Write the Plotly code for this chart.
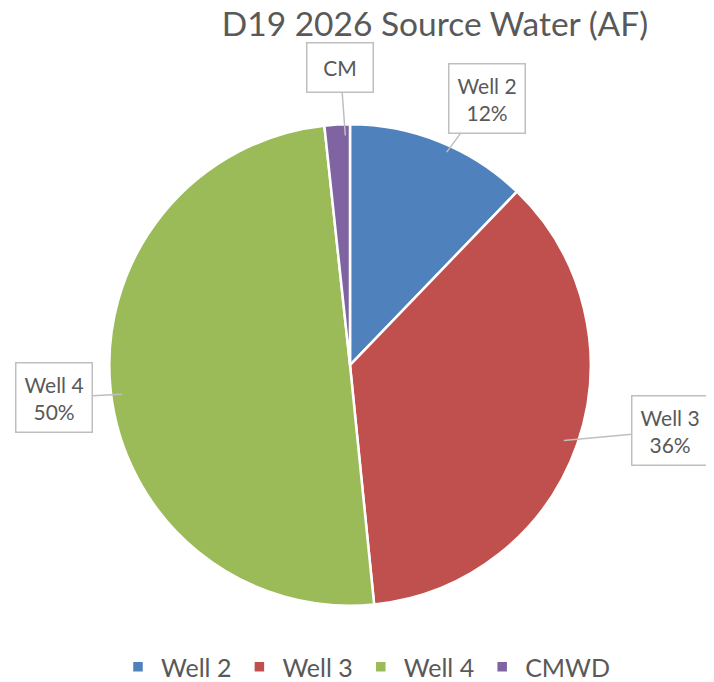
import numpy as np
import plotly.graph_objects as go

# source water share (AF, shown as percent)
sources = ["Well 2", "Well 3", "Well 4", "CMWD"]
volumes = [12.2, 36.2, 49.9, 1.7]
box_text = ["Well 2<br>12%", "Well 3<br>36%", "Well 4<br>50%", "CM"]
colors = ["#4F81BD", "#C0504D", "#9BBB59", "#8064A2"]

W, H = 714, 682
MT = 50                            # top margin holds the title
HP = H - MT                        # plot-area height
cx, cy, R = 342, 360, 243          # pie centre / radius in pixels (domain)
# label box centre offsets from the arrow tip (pixels)
box_offsets = [(40, -54), (106, -10), (-68, 3), (-5, -68)]
box_sizes = [None, None, None, (49, 32)]

fig = go.Figure()
fig.add_trace(go.Pie(
    labels=sources,
    values=volumes,
    sort=False,
    direction="clockwise",
    rotation=0,
    textinfo="none",
    hoverinfo="label+percent",
    marker=dict(colors=colors, line=dict(color="white", width=2.5)),
    domain=dict(x=[(cx - R) / W, (cx + R) / W],
                y=[(H - cy - R) / HP, (H - cy + R) / HP]),
))

# callout labels, tip at slice middle near the rim
vals = np.array(volumes)
mids = (np.cumsum(vals) - vals / 2) / vals.sum() * 2 * np.pi
px, py = 350, 365   # where the pie actually lands
for i, ang in enumerate(mids):
    r = 242 * (0.98 if i != 1 else 0.9)
    tx = px + r * np.sin(ang)
    ty = py - r * np.cos(ang)
    extra = {}
    if box_sizes[i]:
        extra = dict(width=box_sizes[i][0], height=box_sizes[i][1])
    fig.add_annotation(
        x=tx / W, y=(H - ty) / HP, xref="paper", yref="paper",
        text=box_text[i],
        showarrow=True, arrowhead=0, arrowwidth=1.5, arrowcolor="#BFBFBF",
        ax=box_offsets[i][0], ay=box_offsets[i][1],
        bordercolor="#BFBFBF", borderwidth=1.5, borderpad=8,
        bgcolor="white",
        font=dict(family="Lato, Open Sans, sans-serif", size=21, color="#595959"),
        **extra,
    )

fig.update_layout(
    width=W, height=H,
    margin=dict(l=0, r=0, t=MT, b=0),
    paper_bgcolor="white",
    title=dict(text="D19 2026 Source Water (AF)", x=0.598, xanchor="center",
               y=1 - 16 / H, yanchor="middle",
               font=dict(family="Lato, Open Sans, sans-serif", size=33.5, color="#595959")),
    legend=dict(orientation="h", x=0.5, xanchor="center",
                y=(H - 665) / HP, yanchor="middle",
                font=dict(family="Lato, Open Sans, sans-serif", size=25, color="#595959"),
                itemwidth=36, traceorder="normal"),
)

fig.write_html("out.html")
